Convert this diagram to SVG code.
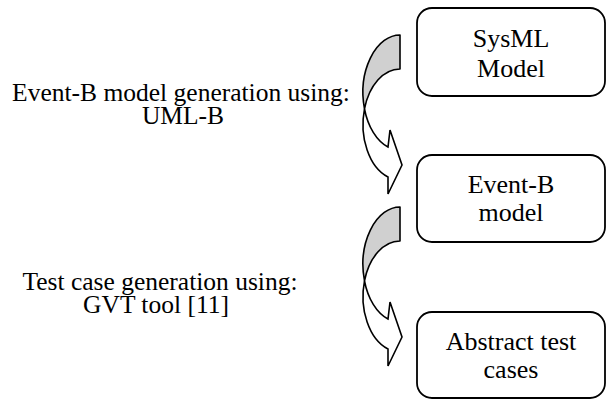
<svg xmlns="http://www.w3.org/2000/svg" width="607" height="401" viewBox="0 0 607 401">
<style>
.box{fill:#fff;stroke:#000;stroke-width:1.8}
.t{font-family:"Liberation Serif","Times New Roman",serif;font-size:26px;fill:#000;text-anchor:middle}
.l{font-family:"Liberation Serif","Times New Roman",serif;font-size:25.5px;fill:#000;text-anchor:middle}
.back{fill:#d0d0d0;stroke:#000;stroke-width:1.6;stroke-linejoin:round}
.front{fill:#fff;stroke:#000;stroke-width:1.6;stroke-linejoin:miter}
</style>
<defs>
<g id="carrow">
<path class="back" d="M400,35 A37,57.5 0 0 0 364.5,108.8 A37,55.5 0 0 1 400,69 Z"/>
<path class="front" d="M364.5,108.8 A37,57.5 0 0 0 388,147 L390,130 L402,165 L388,194 L388,177 A37,55.5 0 0 1 364.5,108.8 Z"/>
</g>
</defs>
<rect width="607" height="401" fill="#fff"/>
<g id="connectors">
<g id="c1">
<use href="#carrow"/>
<text class="l" x="181" y="101">Event-B model generation using:</text>
<text class="l" x="183" y="124">UML-B</text>
</g>
<g id="c2">
<use href="#carrow" transform="translate(0,172)"/>
<text class="l" x="160" y="290">Test case generation using:</text>
<text class="l" x="156" y="313">GVT tool [11]</text>
</g>
</g>
<g id="sysml">
<rect class="box" x="417" y="8" width="188" height="88" rx="15"/>
<text class="t" x="511" y="47">SysML</text>
<text class="t" x="511" y="77">Model</text>
</g>
<g id="eventb">
<rect class="box" x="417" y="155" width="188" height="87" rx="15"/>
<text class="t" x="511" y="193">Event-B</text>
<text class="t" x="511" y="221">model</text>
</g>
<g id="tests">
<rect class="box" x="417" y="312" width="188" height="86" rx="15"/>
<text class="t" x="511" y="350">Abstract test</text>
<text class="t" x="511" y="378">cases</text>
</g>
</svg>
